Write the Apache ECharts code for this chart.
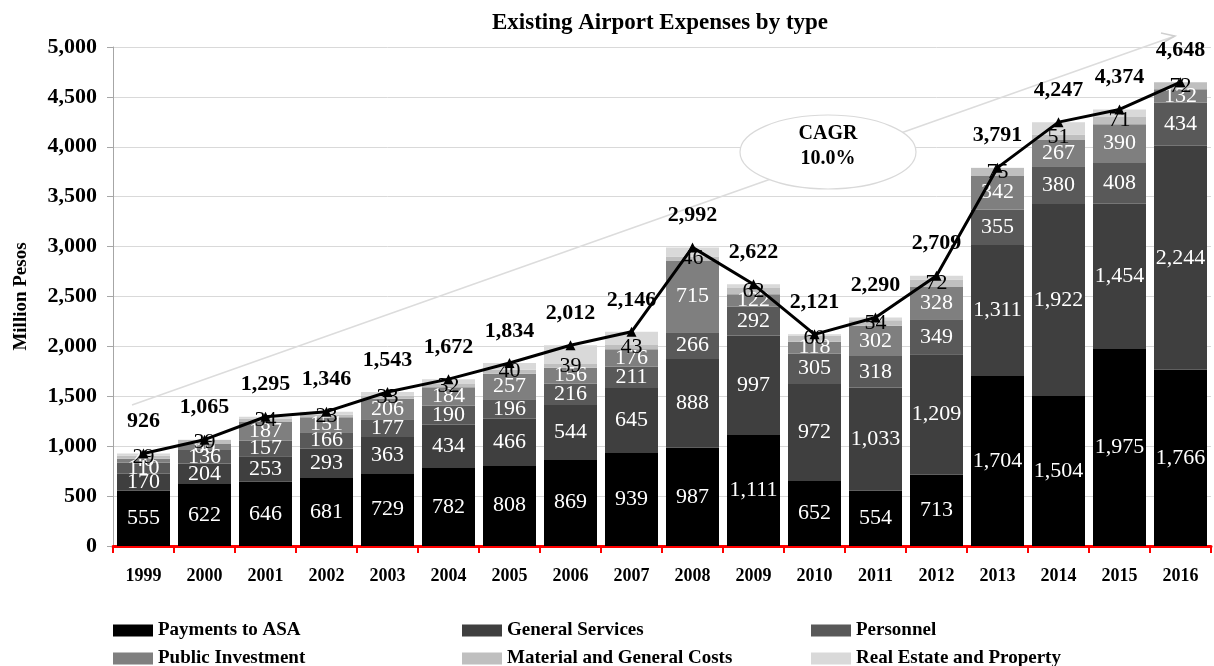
<!DOCTYPE html>
<html>
<head>
<meta charset="utf-8">
<script src="https://cdn.jsdelivr.net/npm/echarts@6/dist/echarts.min.js"></script>
<style>
html,body{margin:0;padding:0;background:#fff;}
#main{width:1214px;height:666px;}
</style>
</head>
<body>
<div id="main"></div>
<script>
const years = ['1999','2000','2001','2002','2003','2004','2005','2006','2007','2008','2009','2010','2011','2012','2013','2014','2015','2016'];
const paymentsASA   = [555,622,646,681,729,782,808,869,939,987,1111,652,554,713,1704,1504,1975,1766];
const generalServ   = [170,204,253,293,363,434,466,544,645,888,997,972,1033,1209,1311,1922,1454,2244];
const personnel     = [110,136,157,166,177,190,196,216,211,266,292,305,318,349,355,380,408,434];
const publicInv     = [40,60,187,151,206,184,257,156,176,715,122,118,302,328,342,267,390,132];
const materialCosts = [29,39,34,23,33,32,40,39,43,46,62,60,54,72,75,51,71,72];
const realEstate    = [22,4,18,32,35,50,67,188,132,90,38,14,29,38,4,123,76,0];
const totals        = [926,1065,1295,1346,1543,1672,1834,2012,2146,2992,2622,2121,2290,2709,3791,4247,4374,4648];
const yTicks = [0,500,1000,1500,2000,2500,3000,3500,4000,4500,5000];

const FONT = "'Liberation Serif','Times New Roman',serif";
const fmt = v => v === 0 ? '' : Number(v).toLocaleString('en-US');

function barSeries(name, data, color, labelColor, showLabel) {
  return {
    name: name, type: 'bar', stack: 'total', data: data, barWidth: 53,
    itemStyle: { color: color },
    label: {
      show: showLabel, position: 'inside', color: labelColor,
      fontFamily: FONT, fontSize: 22,
      formatter: p => fmt(p.value)
    },
    labelLayout: { hideOverlap: false }
  };
}

const chart = echarts.init(document.getElementById('main'), null, { renderer: 'canvas' });

const ax0 = 132, ay0 = 405, ax1 = 1175, ay1 = 36;

chart.setOption({
  animation: false,
  backgroundColor: '#fff',
  title: {
    text: 'Existing Airport Expenses by type',
    left: 655, top: 7, textAlign: 'center',
    textStyle: { fontFamily: FONT, fontWeight: 'bold', fontSize: 23, color: '#000' }
  },
  grid: { left: 113, right: 3, top: 47, bottom: 120, containLabel: false },
  legend: {
    data: ['Payments to ASA','General Services','Personnel','Public Investment','Material and General Costs','Real Estate and Property'],
    left: 108, top: 615, width: 1100,
    icon: 'rect', itemWidth: 40, itemHeight: 12, itemGap: 7,
    textStyle: { fontFamily: FONT, fontWeight: 'bold', fontSize: 19, color: '#000', width: 297, lineHeight: 21 }
  },
  xAxis: {
    type: 'category', data: years,
    axisLine: { lineStyle: { color: '#ff0000', width: 3 } },
    axisTick: { show: true, length: 7, lineStyle: { color: '#ff0000', width: 2 } },
    axisLabel: { fontFamily: FONT, fontWeight: 'bold', fontSize: 18, color: '#000', margin: 21 }
  },
  yAxis: {
    type: 'value', min: 0, max: 5000, interval: 500,
    name: 'Million Pesos', nameLocation: 'middle', nameGap: 82, nameRotate: 90,
    nameTextStyle: { fontFamily: FONT, fontWeight: 'bold', fontSize: 19, color: '#000' },
    axisLine: { show: true, lineStyle: { color: '#a6a6a6', width: 1 } },
    axisTick: { show: true, length: 6, lineStyle: { color: '#a6a6a6' } },
    splitLine: { lineStyle: { color: '#d9d9d9', width: 1 } },
    axisLabel: {
      fontFamily: FONT, fontWeight: 'bold', fontSize: 22, color: '#000', margin: 16,
      formatter: v => yTicks.includes(v) ? Number(v).toLocaleString('en-US') : ''
    }
  },
  graphic: [
    { type: 'line', z: 1, shape: { x1: ax0, y1: ay0, x2: ax1, y2: ay1 }, style: { stroke: '#dcdcdc', lineWidth: 1.5 } },
    { type: 'polyline', z: 1, shape: { points: [[1161, 33], [ax1, ay1], [1164, 42]] }, style: { stroke: '#cfcfcf', lineWidth: 1.5, fill: null } },
    { type: 'ellipse', z: 2, shape: { cx: 828, cy: 152, rx: 88, ry: 37 }, style: { fill: '#fff', stroke: '#d9d9d9', lineWidth: 1.2 } },
    { type: 'text', z: 3, x: 828, y: 134, style: { text: 'CAGR', align: 'center', verticalAlign: 'middle', font: "bold 20px 'Liberation Serif', serif", fill: '#000' } },
    { type: 'text', z: 3, x: 828, y: 159, style: { text: '10.0%', align: 'center', verticalAlign: 'middle', font: "bold 20px 'Liberation Serif', serif", fill: '#000' } }
  ],
  series: [
    barSeries('Payments to ASA', paymentsASA, '#000000', '#fff', true),
    barSeries('General Services', generalServ, '#3f3f3f', '#fff', true),
    barSeries('Personnel', personnel, '#595959', '#fff', true),
    barSeries('Public Investment', publicInv, '#7f7f7f', '#fff', true),
    barSeries('Material and General Costs', materialCosts, '#bfbfbf', '#000', true),
    barSeries('Real Estate and Property', realEstate, '#d9d9d9', '#000', false),
    {
      name: 'Total', type: 'line', data: totals, z: 10,
      symbol: 'triangle', symbolSize: 10,
      itemStyle: { color: '#000' },
      lineStyle: { color: '#000', width: 3 },
      label: {
        show: true, position: 'top', distance: 16,
        fontFamily: FONT, fontWeight: 'bold', fontSize: 22, color: '#000',
        formatter: p => fmt(p.value)
      }
    }
  ]
});
</script>
</body>
</html>
